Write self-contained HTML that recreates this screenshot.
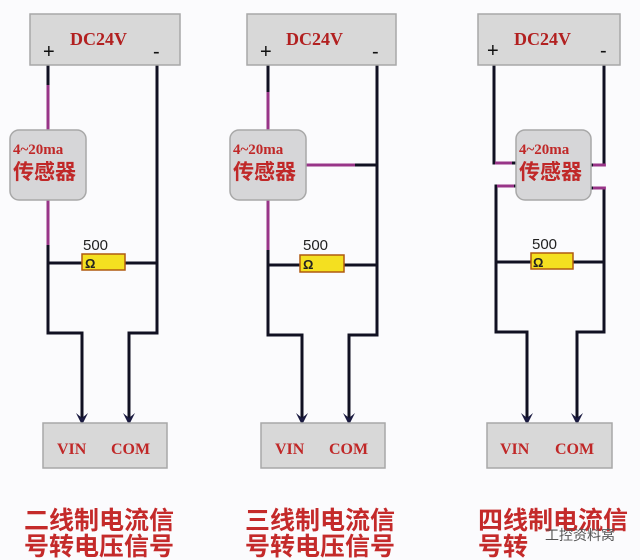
<!DOCTYPE html>
<html><head><meta charset="utf-8"><style>
html,body{margin:0;padding:0;background:#fbfbfd;}
svg{display:block}
.dc{font-family:"Liberation Serif",serif;font-weight:bold;fill:#b22020;font-size:18px}
.s{font-family:"Liberation Serif","Noto Sans CJK SC",serif;font-weight:bold;fill:#c02828}
.cap{font-family:"Liberation Sans","Noto Sans CJK SC",sans-serif;font-weight:bold;fill:#c42a2a;font-size:25px}
</style></head><body>
<svg width="640" height="560" viewBox="0 0 640 560">
<g stroke="#111122" stroke-width="3" fill="none">
<path d="M48,65 V333 H82 V422"/>
<path d="M157,65 V333 H129 V422"/>
<path d="M48,263 H157"/>
<path d="M268,65 V335 H302 V422"/>
<path d="M377,65 V335 H349 V422"/>
<path d="M268,265 H377"/><path d="M306,165 H377"/>
<path d="M494,65 V163 H516"/>
<path d="M604,65 V165 H591"/>
<path d="M516,186 H496 V332 H527 V422"/>
<path d="M591,188 H604 V332 H577 V422"/>
<path d="M496,262 H604"/>
</g>
<g fill="#1a1a40">
<path d="M76,413 L82,425 L88,413 L82,418 Z"/><path d="M123,413 L129,425 L135,413 L129,418 Z"/>
<path d="M296,413 L302,425 L308,413 L302,418 Z"/><path d="M343,413 L349,425 L355,413 L349,418 Z"/>
<path d="M521,413 L527,425 L533,413 L527,418 Z"/><path d="M571,413 L577,425 L583,413 L577,418 Z"/>
</g>
<g stroke="#b03c9a" stroke-width="3" opacity="0.85">
<path d="M48,85 V130"/><path d="M48,200 V245"/>
<path d="M268,92 V130"/><path d="M268,200 V250"/><path d="M306,165 H355"/>
<path d="M495,163 H512"/><path d="M497,186 H514"/><path d="M593,165 H606"/><path d="M593,188 H606"/>
</g>
<g fill="#d8d8d8" stroke="#a8a8a8" stroke-width="1.5">
<rect x="30" y="14" width="150" height="51"/>
<rect x="247" y="14" width="149" height="51"/>
<rect x="478" y="14" width="142" height="51"/>
<rect x="43" y="423" width="124" height="45"/>
<rect x="261" y="423" width="124" height="45"/>
<rect x="487" y="423" width="125" height="45"/>
</g>
<g fill="#d6d6d8" stroke="#a8a8a8" stroke-width="1.5">
<rect x="10" y="130" width="76" height="70" rx="9"/>
<rect x="230" y="130" width="76" height="70" rx="9"/>
<rect x="516" y="130" width="75" height="70" rx="9"/>
</g>
<text class="dc" x="70" y="45">DC24V</text><text class="dc" x="286" y="45">DC24V</text><text class="dc" x="514" y="45">DC24V</text>
<g font-family="Liberation Sans,sans-serif" font-size="20" fill="#111">
<text x="43" y="58">+</text><text x="153" y="58">-</text>
<text x="260" y="58">+</text><text x="372" y="58">-</text>
<text x="487" y="57">+</text><text x="600" y="57">-</text>
</g>
<g class="s">
<text x="13" y="154" font-size="15">4~20ma</text><text x="13" y="179" font-size="21">传感器</text>
<text x="233" y="154" font-size="15">4~20ma</text><text x="233" y="179" font-size="21">传感器</text>
<text x="519" y="154" font-size="15">4~20ma</text><text x="519" y="179" font-size="21">传感器</text>
</g>
<g fill="#f4e020" stroke="#b05a10" stroke-width="1.5">
<rect x="82" y="254" width="43" height="16"/><rect x="300" y="255" width="44" height="17"/><rect x="531" y="253" width="42" height="16"/>
</g>
<g font-family="Liberation Sans,sans-serif" font-size="15" fill="#222">
<text x="83" y="250">500</text><text x="303" y="250">500</text><text x="532" y="249">500</text>
<text x="85" y="268" font-size="13" font-weight="bold">Ω</text><text x="303" y="269" font-size="13" font-weight="bold">Ω</text><text x="533" y="267" font-size="13" font-weight="bold">Ω</text>
</g>
<g class="s" font-size="16">
<text x="57" y="454">VIN</text><text x="111" y="454">COM</text>
<text x="275" y="454">VIN</text><text x="329" y="454">COM</text>
<text x="500" y="454">VIN</text><text x="555" y="454">COM</text>
</g>
<text class="cap" x="24" y="529">二线制电流信</text><text class="cap" x="24" y="555">号转电压信号</text>
<text class="cap" x="245" y="529">三线制电流信</text><text class="cap" x="245" y="555">号转电压信号</text>
<text class="cap" x="478" y="529">四线制电流信</text><text class="cap" x="478" y="555">号转</text>
<text x="545" y="540" font-family="Liberation Sans,Noto Sans CJK SC,sans-serif" font-size="14" fill="#555">工控资料窝</text>
</svg>
</body></html>
